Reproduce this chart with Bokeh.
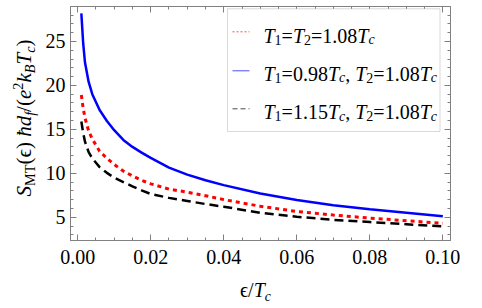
import math
from bokeh.plotting import figure
from bokeh.layouts import row, column
from bokeh.models import (Range1d, SingleIntervalTicker, LinearAxis, Label,
                          BoxAnnotation, Arrow, CustomJSTickFormatter, Div)
from bokeh.embed import file_html
from bokeh.resources import INLINE

# ---- data ----
eps = [0.001, 0.0015, 0.002, 0.003, 0.004, 0.006, 0.008, 0.01, 0.0125, 0.015,
       0.0175, 0.02, 0.025, 0.03, 0.035, 0.04, 0.05, 0.06, 0.07, 0.08, 0.09, 0.10]
# T1 = T2 = 1.08 Tc (red dotted)
s_equal = [18.9, 17.4, 16.3, 14.8, 13.9, 12.5, 11.7, 11.0, 10.25, 9.7,
           9.2, 8.8, 8.2, 7.85, 7.45, 7.0, 6.25, 5.65, 5.25, 4.9, 4.6, 4.3]
# T1 = 0.98 Tc, T2 = 1.08 Tc (blue solid)
s_low = [28.2, 24.8, 22.6, 20.4, 19.0, 17.2, 15.95, 14.9, 13.8, 13.0,
         12.35, 11.75, 10.65, 9.85, 9.2, 8.65, 7.7, 6.95, 6.35, 5.9, 5.5, 5.1]
# T1 = 1.15 Tc, T2 = 1.08 Tc (black dashed)
s_high = [15.9, 14.6, 13.6, 12.4, 11.7, 10.7, 10.05, 9.5, 9.0, 8.5,
          8.05, 7.65, 7.2, 6.85, 6.5, 6.2, 5.5, 5.05, 4.7, 4.45, 4.2, 3.95]

x_tick_step = 0.02
y_tick_step = 5

GRAY = "#808080"
FONT = "Liberation Serif"

p = figure(width=434, height=274,
           min_border_left=30, min_border_right=24, min_border_top=6, min_border_bottom=34,
           x_range=Range1d(-0.00197, 0.1021), y_range=Range1d(2.35, 28.98),
           output_backend="svg", toolbar_location=None)
p.xgrid.visible = False
p.ygrid.visible = False
p.outline_line_color = GRAY
p.background_fill_color = "white"
p.border_fill_color = "white"

p.line(eps, s_low, line_color="#0000ff", line_width=2.5)
p.line(eps, s_equal, line_color="#ff0000", line_width=3, line_dash="4 4")
p.line(eps, s_high, line_color="#000000", line_width=2.5, line_dash="9 5")

bottom_ax = p.xaxis[0]
left_ax = p.yaxis[0]

xt = SingleIntervalTicker(interval=x_tick_step, num_minor_ticks=4)
yt = SingleIntervalTicker(interval=y_tick_step, num_minor_ticks=5)
bottom_ax.ticker = xt
left_ax.ticker = yt
bottom_ax.formatter = CustomJSTickFormatter(code="return tick.toFixed(2);")

top_ax = LinearAxis(ticker=xt)
right_ax = LinearAxis(ticker=yt)
for ax in (top_ax, right_ax):
    ax.formatter = CustomJSTickFormatter(code="return '';")
    ax.major_label_text_font_size = "0px"
    ax.major_label_standoff = 0
p.add_layout(top_ax, "above")
p.add_layout(right_ax, "right")

for ax in (bottom_ax, left_ax, top_ax, right_ax):
    ax.axis_line_color = GRAY
    ax.major_tick_line_color = GRAY
    ax.minor_tick_line_color = GRAY
    ax.major_tick_in = 6
    ax.major_tick_out = 0
    ax.minor_tick_in = 3
    ax.minor_tick_out = 0
for ax in (bottom_ax, left_ax):
    ax.major_label_text_font = FONT
    ax.major_label_text_font_size = "20px"
    ax.major_label_text_color = "black"
bottom_ax.major_label_standoff = 9
left_ax.major_label_standoff = 5

# ---- legend (inside the frame) ----
ROMAN = {'.': 0.25, ',': 0.25, ' ': 0.25, '=': 0.564, '(': 0.333, ')': 0.333,
         '/': 0.278, 'M': 0.889, 'T': 0.611}
ITALIC = {'T': 0.556, 'c': 0.444}


def text_width(text, size, style):
    table = ITALIC if style == "italic" else ROMAN
    return sum(table.get(ch, 0.5) for ch in text) * size


def place_runs(runs, x0, y0):
    adv = 0.0
    for text, size, style, dy in runs:
        p.add_layout(Label(x=x0 + adv, y=y0 + dy, x_units="screen", y_units="screen",
                           text=text, text_font=FONT, text_font_size=f"{size}px",
                           text_font_style=style, text_color="black",
                           text_align="left", text_baseline="alphabetic"))
        adv += text_width(text, size, style)


p.add_layout(BoxAnnotation(left=157, right=369.5, top=231.7, bottom=109,
                           left_units="screen", right_units="screen",
                           top_units="screen", bottom_units="screen",
                           fill_color="white", fill_alpha=1.0,
                           line_color=GRAY, line_width=1, level="annotation"))

legend_lines = [("#ff0000", "2 2", 208.7), ("#0000ff", None, 169.7), ("#000000", "5 3", 131.7)]
for col, dash, yy in legend_lines:
    kw = dict(line_dash=dash) if dash else {}
    p.add_layout(Arrow(end=None, start=None, x_start=162, y_start=yy, x_end=179, y_end=yy,
                       start_units="screen", end_units="screen",
                       line_color=col, line_width=1, line_alpha=0.7, **kw))

L, Ls = 20, 14
row1 = [("T", L, "italic", 0), ("1", Ls, "normal", -4), ("=", L, "normal", 0),
        ("T", L, "italic", 0), ("2", Ls, "normal", -4), ("=1.08", L, "normal", 0),
        ("T", L, "italic", 0), ("c", Ls, "italic", -4)]
row2 = [("T", L, "italic", 0), ("1", Ls, "normal", -4), ("=0.98", L, "normal", 0),
        ("T", L, "italic", 0), ("c", Ls, "italic", -4), (", ", L, "normal", 0),
        ("T", L, "italic", 0), ("2", Ls, "normal", -4), ("=1.08", L, "normal", 0),
        ("T", L, "italic", 0), ("c", Ls, "italic", -4)]
row3 = [("T", L, "italic", 0), ("1", Ls, "normal", -4), ("=1.15", L, "normal", 0),
        ("T", L, "italic", 0), ("c", Ls, "italic", -4), (", ", L, "normal", 0),
        ("T", L, "italic", 0), ("2", Ls, "normal", -4), ("=1.08", L, "normal", 0),
        ("T", L, "italic", 0), ("c", Ls, "italic", -4)]
place_runs(row1, 193, 205)
place_runs(row2, 193, 166.7)
place_runs(row3, 193, 128.3)

# ---- axis titles as HTML text (sub/superscripts) ----
SUB = '<sub style="font-size:68%;line-height:0;vertical-align:-0.3em">'
SUP = '<sup style="font-size:68%;line-height:0;vertical-align:0.55em">'
y_title = (f'<i>S</i>{SUB}MT</sub>(ϵ) <i>ħd</i>{SUB}<i>f</i></sub>/'
           f'(<i>e</i>{SUP}2</sup><i>k</i>{SUB}<i>B</i></sub><i>T</i>{SUB}<i>c</i></sub>)')
x_title = f'ϵ/<i>T</i>{SUB}<i>c</i></sub>'

ydiv = Div(text=(f'<div style="width:236px;height:30px;line-height:30px;'
                 f'font-family:\'{FONT}\';font-size:21px;white-space:nowrap;text-align:center;'
                 f'color:black;transform-origin:0 0;transform:translate(9px,236px) rotate(-90deg);">'
                 f'{y_title}</div>'),
           width=40, height=274, margin=0)
xdiv = Div(text=(f'<div style="padding-left:240px;padding-top:6px;line-height:20px;'
                 f'font-family:\'{FONT}\';font-size:20px;white-space:nowrap;color:black;">'
                 f'{x_title}</div>'),
           width=474, height=30, margin=0)

layout = column(row(ydiv, p, spacing=0, margin=0), xdiv, spacing=0, margin=0)

open("out.html", "w").write(file_html(layout, INLINE))
